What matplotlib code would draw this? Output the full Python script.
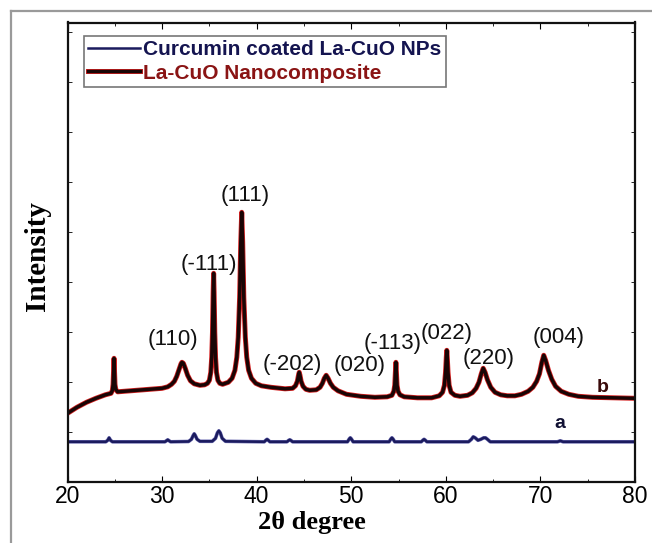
import matplotlib
matplotlib.use("Agg")
import matplotlib.pyplot as plt
from matplotlib.lines import Line2D
from matplotlib.legend_handler import HandlerTuple

# ---- data (2theta in degrees, intensity in arbitrary units) ----
b_theta = [20.0, 21.0, 22.0, 23.0, 24.0, 24.6, 24.75, 24.82, 24.87, 24.92, 24.97, 25.02, 25.1, 25.3,
           26.0, 28.0, 30.0, 30.6, 31.0, 31.3, 31.55, 31.8, 32.0, 32.1, 32.25, 32.45, 32.7, 33.0, 33.4,
           34.0, 34.5, 34.8, 35.0, 35.15, 35.25, 35.33, 35.4, 35.45, 35.5, 35.57, 35.65, 35.75, 35.9,
           36.1, 36.4, 37.0, 37.4, 37.7, 37.9, 38.05, 38.2, 38.32, 38.42, 38.52, 38.64, 38.8, 38.95,
           39.15, 39.45, 39.9, 40.5, 41.5, 43.0, 43.8, 44.1, 44.3, 44.42, 44.5, 44.58, 44.7, 44.9,
           45.2, 45.6, 46.3, 46.7, 46.95, 47.15, 47.35, 47.55, 47.8, 48.1, 48.6, 49.5, 51.0, 52.5,
           53.8, 54.3, 54.5, 54.6, 54.67, 54.72, 54.77, 54.84, 54.95, 55.15, 55.6, 57.0, 58.5, 59.3,
           59.65, 59.85, 59.97, 60.05, 60.1, 60.15, 60.23, 60.35, 60.55, 60.95, 61.5, 62.3, 62.8,
           63.2, 63.5, 63.75, 63.95, 64.15, 64.4, 64.75, 65.2, 65.8, 66.5, 67.3, 68.0, 68.7, 69.2,
           69.6, 69.9, 70.15, 70.35, 70.55, 70.85, 71.2, 71.6, 72.2, 73.0, 74.0, 75.5, 80.0]
b_int = [69, 75, 80, 84, 87.5, 89, 92, 98, 110, 124, 110, 98, 93, 90.5,
         91, 92.5, 94, 95.5, 98, 101, 106, 113, 118.5, 120, 119, 114, 107, 101.5, 98.5,
         97, 97.5, 99, 102, 110, 125, 150, 190, 209, 190, 150, 125, 110, 102,
         99, 98, 100, 104, 112, 125, 145, 185, 240, 270, 240, 185, 145, 125,
         112, 104, 99, 96.5, 95, 93.5, 94, 96.5, 101, 107, 110, 107, 101, 96,
         93, 92, 92.5, 95, 99, 104, 107, 104, 99, 95, 91.5, 88, 86, 85,
         85.5, 87, 91, 97, 110, 120, 110, 97, 91, 87.5, 85.5, 84.5, 84.5, 86.5,
         90, 97, 110, 125, 132, 125, 110, 97, 90, 87, 86, 87, 89.5,
         94, 100, 108.5, 114, 110, 102.5, 95, 90, 87.5, 86.5, 86.5, 88, 91, 95,
         101, 108.5, 120, 127, 122, 112, 103, 96, 91, 88, 86, 85, 84]

a_theta = [20.0, 24.05, 24.25, 24.4, 24.55, 24.75, 30.3, 30.5, 30.6, 30.7, 30.9, 32.8, 33.1,
           33.3, 33.4, 33.5, 33.7, 34.0, 35.3, 35.65, 35.85, 36.0, 36.15, 36.35, 36.7, 40.8,
           41.0, 41.1, 41.2, 41.4, 43.2, 43.4, 43.5, 43.6, 43.8, 49.6, 49.8, 49.9, 50.0, 50.2,
           54.0, 54.2, 54.3, 54.4, 54.6, 57.4, 57.6, 57.7, 57.8, 58.0, 62.4, 62.7, 62.9, 63.1,
           63.4, 63.7, 64.0, 64.2, 64.4, 64.7, 71.8, 72.1, 72.4, 80.0]
a_int = [40.5, 40.5, 42, 44.5, 42, 40.5, 40.5, 41.8, 42.5, 41.8, 40.5, 40.8, 43,
         47, 48.5, 47, 43, 41, 41, 44, 49.5, 51.5, 49.5, 44, 41, 40.5,
         42.3, 43, 42.3, 40.5, 40.5, 42, 42.5, 42, 40.5, 40.5, 43.5, 44.5, 43.5, 40.5,
         40.5, 43.5, 44.5, 43.5, 40.5, 40.5, 42.3, 43, 42.3, 40.5, 40.5, 43, 45.5, 44.5,
         42, 43, 44.5, 44.5, 43, 40.5, 40.5, 41.5, 40.5, 40.5]

peak_labels = ["(110)", "(-111)", "(111)", "(-202)", "(020)", "(-113)", "(022)", "(220)", "(004)"]
label_theta = [31.1, 34.9, 38.8, 43.8, 50.9, 54.4, 60.1, 64.5, 71.9]
label_int = [143, 218, 287, 118, 117, 139, 149, 124, 145]

series_names = ["Curcumin coated La-CuO NPs", "La-CuO Nanocomposite"]
x_ticks = [20, 30, 40, 50, 60, 70, 80]

# ---- figure ----
W, H = 652, 543
fig = plt.figure(figsize=(W / 100, H / 100), dpi=100)
fig.patch.set_facecolor("white")

# outer grey frame (top and left visible)
fig.add_artist(Line2D([11 / W, 1.0], [1 - 11 / H, 1 - 11 / H], color="#9a9a9a", lw=1.6))
fig.add_artist(Line2D([11 / W, 11 / W], [0, 1 - 11 / H], color="#9a9a9a", lw=1.6))

left, right, top, bottom = 67.5, 635.0, 22.5, 482.3
ax = fig.add_axes([left / W, 1 - bottom / H, (right - left) / W, (bottom - top) / H])

navy = "#1b1b5e"
ax.plot(a_theta, a_int, color="#6a6ab0", lw=2.6, solid_joinstyle="round")
la, = ax.plot(a_theta, a_int, color=navy, lw=1.8, solid_joinstyle="round")
lb1, = ax.plot(b_theta, b_int, color="#d42020", lw=3.6, solid_joinstyle="round")
lb2, = ax.plot(b_theta, b_int, color="#1a0505", lw=2.5, solid_joinstyle="round")

ax.set_xlim(20, 80)
ax.set_ylim(0, bottom - top)

lab_font = dict(family="Liberation Sans", size=16, color="#111111", ha="center", va="center")
for t, xv, yv in zip(peak_labels, label_theta, label_int):
    ax.text(xv, yv, t, **lab_font)
ax.text(76.6, 95, "b", family="Liberation Sans", weight="bold", size=14,
        color="#3a0a0a", ha="center", va="center")
ax.text(72.1, 59, "a", family="Liberation Sans", weight="bold", size=14,
        color="#111133", ha="center", va="center")

ax.set_xticks(x_ticks)
ax.set_xticks(range(25, 80, 10), minor=True)
ax.set_yticks(range(50, 460, 50))
ax.set_yticklabels([])
ax.tick_params(axis="both", which="both", direction="in", top=True, right=True)
ax.tick_params(axis="x", which="major", length=4, width=0.8, labelsize=16.5, pad=2)
ax.tick_params(axis="x", which="minor", length=2.5, width=0.6)
ax.tick_params(axis="y", which="major", length=3, width=0.6)
for lbl in ax.get_xticklabels():
    lbl.set_family("Liberation Sans")
for s in ax.spines.values():
    s.set_linewidth(1.6)
    s.set_color("#111111")

fig.text(312 / W, 1 - 522 / H, "2\u03b8 degree", family="Liberation Serif", weight="bold",
         size=19, ha="center", va="center")
fig.text(38 / W, 1 - 256 / H, "Intensity", family="Liberation Serif", weight="bold",
         size=21, ha="center", va="center", rotation=90)

leg = ax.legend([la, (lb1, lb2)], series_names,
                handler_map={tuple: HandlerTuple(ndivide=1)},
                loc="upper left",
                bbox_to_anchor=((84 - left) / (right - left), (bottom - 36) / (bottom - top)),
                borderaxespad=0, frameon=True, fancybox=False, handlelength=2.5,
                handletextpad=0.15, borderpad=0.2, labelspacing=0.22,
                prop=dict(family="Liberation Sans", weight="bold", size=15))
leg.get_frame().set_edgecolor("#555555")
leg.get_frame().set_linewidth(1.2)
leg.get_texts()[0].set_color("#141450")
leg.get_texts()[1].set_color("#8a1414")

fig.savefig("out.png", dpi=100)
